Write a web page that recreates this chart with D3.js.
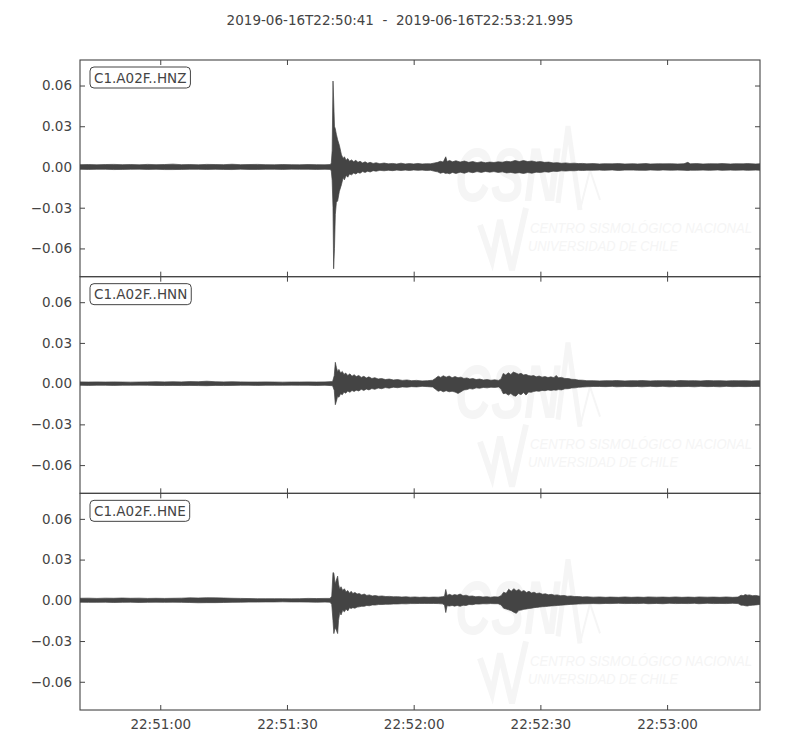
<!DOCTYPE html>
<html><head><meta charset="utf-8">
<script src="https://cdn.jsdelivr.net/npm/d3@7"></script>
<style>body{margin:0;background:#fff}svg{display:block}</style>
</head><body>
<svg id="chart" width="800" height="750"></svg>
<script>
// ---- data (amplitudes; t = seconds after start) ----
const titleText = "2019-06-16T22:50:41  -  2019-06-16T22:53:21.995";
const channels = ["C1.A02F..HNZ", "C1.A02F..HNN", "C1.A02F..HNE"];
const yTicks = [-0.06, -0.03, 0, 0.03, 0.06];
const xTickLabels = ["22:51:00", "22:51:30", "22:52:00", "22:52:30", "22:53:00"];
const startTime = "2019-06-16T22:50:41Z";
const durationSec = 160.995;

// [t, max, min] envelope rows
const hnz = [[0,.0017,-.0017],[2,.0018,-.0018],[4,.0016,-.0017],[6,.0018,-.0017],[8,.0019,-.0019],[10,.0017,-.0018],[12,.0018,-.0017],[14,.0016,-.0016],[16,.0019,-.0018],[18,.0017,-.0017],[20,.0018,-.0019],[22,.0021,-.0019],[24,.0017,-.0018],[26,.0018,-.0017],[28,.0016,-.0017],[30,.0019,-.0018],[32,.0018,-.0017],[34,.0017,-.0018],[36,.0020,-.0019],[38,.0017,-.0016],[40,.0018,-.0018],[42,.0019,-.0018],[44,.0017,-.0017],[46,.0016,-.0017],[48,.0018,-.0018],[50,.0017,-.0016],[52,.0016,-.0017],[54,.0018,-.0017],[56,.0017,-.0018],[58,.0016,-.0017],[59.3,.0018,-.0018],
[59.5,.0030,-.0030],[59.7,.0120,-.0100],[59.9,.0633,-.0300],[60.05,.0500,-.0750],[60.25,.0300,-.0600],[60.45,.0280,-.0350],[60.7,.0240,-.0260],[61.0,.0200,-.0250],[61.4,.0160,-.0180],[61.9,.0090,-.0130],[62.3,.0062,-.0078],[62.6,.0075,-.0095],[63.0,.0050,-.0062],[63.4,.0062,-.0075],[63.8,.0042,-.0052],[64.3,.0052,-.0058],[64.8,.0038,-.0044],[65.3,.0050,-.0052],[65.8,.0034,-.0040],[66.3,.0042,-.0046],[66.9,.0030,-.0034],[67.5,.0038,-.0040],[68.1,.0028,-.0031],[68.7,.0034,-.0037],[69.4,.0026,-.0027],[70.1,.0031,-.0031],[71,.0024,-.0025],[72,.0029,-.0028],[73,.0023,-.0024],[74,.0026,-.0027],[75,.0022,-.0023],[76,.0028,-.0026],[77,.0022,-.0023],[78,.0025,-.0026],[79,.0022,-.0022],[80,.0026,-.0025],[81,.0022,-.0023],[82,.0024,-.0026],[83,.0023,-.0024],[84,.0030,-.0032],[84.7,.0034,-.0036],[85.3,.0042,-.0046],[86,.0036,-.0040],[86.6,.0075,-.0048],[86.9,.0040,-.0045],[87.5,.0048,-.0050],[88.2,.0038,-.0040],[89,.0046,-.0048],[90,.0036,-.0038],[91,.0044,-.0046],[92,.0034,-.0036],[93,.0040,-.0042],[94,.0032,-.0034],[95,.0038,-.0040],[96,.0031,-.0033],[97,.0036,-.0038],[98,.0033,-.0034],[99,.0038,-.0040],[100,.0035,-.0036],[101,.0042,-.0044],[102,.0038,-.0040],[103,.0048,-.0046],[104,.0040,-.0042],[105,.0047,-.0048],[106,.0040,-.0041],[107,.0044,-.0046],[108,.0037,-.0038],[109,.0040,-.0041],[110,.0034,-.0035],[111,.0036,-.0038],[112,.0030,-.0031],[113,.0032,-.0033],[114,.0027,-.0028],[115,.0030,-.0030],[116,.0026,-.0027],[117,.0028,-.0028],[118,.0025,-.0025],[119,.0026,-.0026],[120,.0023,-.0024],
[121.5,.0025,-.0024],[123,.0022,-.0023],[124,.0024,-.0025],[126,.0023,-.0022],[127.5,.0025,-.0026],[129,.0022,-.0023],[131,.0024,-.0023],[132,.0022,-.0024],[134,.0025,-.0025],[135,.0022,-.0022],[137,.0024,-.0025],[138,.0023,-.0022],[140,.0024,-.0024],[141.5,.0022,-.0023],[143,.0024,-.0024],[143.9,.0034,-.0026],[144.5,.0023,-.0024],[146,.0025,-.0024],[147.5,.0022,-.0023],[149,.0024,-.0025],[151,.0023,-.0022],[152,.0025,-.0025],[154,.0022,-.0023],[155,.0024,-.0024],[157,.0023,-.0023],[158,.0025,-.0025],[160,.0022,-.0023],[161,.0024,-.0024]];

const hnn = [[0,.0013,-.0012],[2,.0012,-.0013],[4,.0013,-.0012],[6,.0012,-.0012],[8,.0013,-.0013],[10,.0012,-.0012],[12,.0011,-.0012],[14,.0012,-.0011],[16,.0013,-.0012],[18,.0014,-.0013],[20,.0013,-.0014],[22,.0014,-.0013],[24,.0013,-.0014],[26,.0015,-.0013],[28,.0014,-.0014],[30,.0018,-.0015],[32,.0014,-.0013],[34,.0013,-.0014],[36,.0014,-.0013],[38,.0013,-.0012],[40,.0012,-.0012],[42,.0012,-.0013],[44,.0013,-.0012],[46,.0012,-.0012],[48,.0011,-.0012],[50,.0012,-.0011],[52,.0012,-.0012],[54,.0013,-.0012],[56,.0012,-.0013],[58,.0013,-.0012],[59.8,.0015,-.0015],
[60.2,.0060,-.0050],[60.45,.0157,-.0155],[60.7,.0120,-.0130],[61.0,.0088,-.0092],[61.3,.0105,-.0100],[61.7,.0078,-.0074],[62.1,.0090,-.0082],[62.5,.0068,-.0062],[62.9,.0078,-.0070],[63.4,.0060,-.0055],[63.9,.0072,-.0064],[64.4,.0054,-.0050],[64.9,.0066,-.0058],[65.4,.0052,-.0048],[66,.0060,-.0054],[66.6,.0046,-.0042],[67.2,.0054,-.0050],[67.8,.0042,-.0040],[68.4,.0050,-.0046],[69.1,.0038,-.0036],[69.8,.0044,-.0042],[70.6,.0034,-.0032],[71.4,.0038,-.0037],[72.3,.0030,-.0029],[73.2,.0034,-.0033],[74.2,.0027,-.0026],[75.2,.0030,-.0030],[76.3,.0024,-.0024],[77.4,.0027,-.0026],[78.5,.0022,-.0022],[79.7,.0024,-.0024],[81,.0020,-.0020],[82.3,.0022,-.0022],[83.5,.0025,-.0025],[84.2,.0040,-.0042],[84.8,.0055,-.0056],[85.4,.0046,-.0050],[86,.0058,-.0060],[86.7,.0048,-.0052],[87.4,.0056,-.0060],[88.1,.0044,-.0056],[88.8,.0052,-.0062],[89.5,.0044,-.0072],[90.2,.0048,-.0060],[90.9,.0038,-.0046],[91.6,.0042,-.0044],[92.3,.0034,-.0036],[93,.0038,-.0040],[93.8,.0030,-.0031],[94.6,.0034,-.0034],[95.5,.0027,-.0028],[96.4,.0030,-.0031],[97.3,.0025,-.0026],[98.2,.0028,-.0028],[99.1,.0024,-.0024],[99.7,.0035,-.0040],[100.2,.0075,-.0074],[100.8,.0064,-.0070],[101.4,.0080,-.0084],[102,.0068,-.0072],[102.6,.0085,-.0088],[103.2,.0078,-.0092],[103.8,.0070,-.0072],[104.4,.0076,-.0082],[105,.0064,-.0066],[105.6,.0068,-.0084],[106.2,.0060,-.0062],[106.8,.0056,-.0064],[107.4,.0060,-.0058],[108,.0050,-.0054],[108.7,.0056,-.0056],[109.4,.0048,-.0050],[110.1,.0052,-.0052],[110.8,.0045,-.0046],[111.5,.0050,-.0050],[112.2,.0044,-.0046],[112.7,.0060,-.0048],[113.3,.0044,-.0044],[114,.0046,-.0046],[114.8,.0038,-.0038],[115.6,.0038,-.0037],[116.4,.0032,-.0032],[117.2,.0031,-.0031],[118,.0026,-.0027],[119,.0025,-.0025],[120,.0022,-.0023],
[121.5,.0022,-.0021],[123,.0020,-.0021],[124.5,.0022,-.0022],[126,.0021,-.0020],[127,.0023,-.0023],[129,.0020,-.0021],[130.5,.0022,-.0022],[132,.0021,-.0021],[133,.0023,-.0023],[135,.0020,-.0020],[136.5,.0022,-.0022],[138,.0021,-.0020],[139.5,.0022,-.0023],[141,.0020,-.0021],[142,.0023,-.0022],[144,.0021,-.0021],[145.5,.0022,-.0023],[147,.0020,-.0020],[148.5,.0023,-.0022],[150,.0021,-.0021],[151.5,.0022,-.0023],[153,.0020,-.0020],[154.5,.0022,-.0022],[156,.0021,-.0021],[157.5,.0022,-.0022],[159,.0020,-.0021],[160.5,.0022,-.0021],[161,.0021,-.0021]];

const hne = [[0,.0015,-.0014],[2,.0016,-.0015],[4,.0014,-.0015],[6,.0016,-.0014],[8,.0015,-.0016],[10,.0017,-.0015],[12,.0015,-.0014],[14,.0016,-.0016],[16,.0014,-.0015],[18,.0015,-.0014],[20,.0014,-.0015],[22,.0015,-.0014],[24,.0016,-.0015],[26,.0018,-.0016],[28,.0017,-.0018],[30,.0019,-.0017],[32,.0018,-.0017],[34,.0017,-.0016],[36,.0015,-.0015],[38,.0014,-.0014],[40,.0013,-.0013],[42,.0012,-.0013],[44,.0012,-.0012],[46,.0012,-.0012],[48,.0012,-.0011],[50,.0011,-.0012],[52,.0012,-.0012],[54,.0014,-.0013],[56,.0013,-.0014],[58,.0014,-.0013],[59.2,.0014,-.0014],
[59.6,.0030,-.0030],[59.9,.0205,-.0150],[60.1,.0200,-.0245],[60.4,.0120,-.0200],[60.7,.0150,-.0220],[61.0,.0178,-.0245],[61.2,.0120,-.0150],[61.5,.0082,-.0088],[61.8,.0100,-.0108],[62.2,.0072,-.0074],[62.6,.0085,-.0085],[63,.0062,-.0064],[63.4,.0072,-.0078],[63.8,.0052,-.0055],[64.2,.0066,-.0060],[64.6,.0050,-.0054],[65.1,.0058,-.0058],[65.6,.0046,-.0050],[66.1,.0050,-.0048],[66.7,.0040,-.0044],[67.3,.0046,-.0044],[67.9,.0036,-.0038],[68.5,.0040,-.0040],[69.2,.0032,-.0034],[69.9,.0035,-.0035],[70.7,.0030,-.0031],[71.5,.0032,-.0031],[72.4,.0028,-.0029],[73.3,.0029,-.0029],[74.2,.0026,-.0027],[75.2,.0027,-.0027],[76.2,.0024,-.0025],[77.2,.0026,-.0026],[78.2,.0023,-.0024],[79.3,.0025,-.0024],[80.4,.0022,-.0023],[81.5,.0024,-.0023],[82.6,.0022,-.0023],[83.7,.0024,-.0023],[84.8,.0023,-.0024],[85.8,.0027,-.0026],[86.3,.0030,-.0034],[86.6,.0080,-.0090],[86.9,.0036,-.0040],[87.5,.0044,-.0042],[88.1,.0036,-.0038],[88.7,.0042,-.0043],[89.3,.0038,-.0038],[90,.0046,-.0044],[90.7,.0034,-.0036],[91.4,.0038,-.0038],[92.1,.0030,-.0031],[92.9,.0032,-.0032],[93.7,.0026,-.0027],[94.5,.0029,-.0028],[95.4,.0024,-.0025],[96.3,.0027,-.0026],[97.2,.0023,-.0024],[98.1,.0026,-.0025],[99,.0024,-.0025],[99.7,.0034,-.0034],[100.3,.0060,-.0058],[100.9,.0052,-.0064],[101.5,.0082,-.0070],[102.1,.0066,-.0076],[102.7,.0086,-.0088],[103.3,.0070,-.0096],[103.9,.0080,-.0074],[104.5,.0064,-.0072],[105.1,.0072,-.0066],[105.7,.0058,-.0064],[106.3,.0066,-.0060],[106.9,.0054,-.0058],[107.5,.0060,-.0054],[108.1,.0050,-.0052],[108.8,.0054,-.0050],[109.5,.0045,-.0047],[110.2,.0048,-.0046],[110.9,.0041,-.0043],[111.6,.0044,-.0041],[112.3,.0038,-.0040],[113,.0040,-.0038],[113.8,.0034,-.0036],[114.6,.0036,-.0034],[115.4,.0030,-.0032],[116.2,.0032,-.0030],[117,.0028,-.0029],[118,.0028,-.0027],[119,.0025,-.0026],[120,.0026,-.0025],
[121.5,.0023,-.0024],[123,.0025,-.0025],[124.5,.0022,-.0023],[125.5,.0024,-.0024],[127.5,.0022,-.0022],[129,.0025,-.0024],[130.5,.0022,-.0023],[132,.0024,-.0024],[133.5,.0022,-.0022],[134.5,.0025,-.0025],[136.5,.0023,-.0023],[138,.0024,-.0025],[139.5,.0022,-.0022],[141,.0025,-.0024],[142.5,.0022,-.0023],[144,.0024,-.0024],[145.5,.0022,-.0022],[146.5,.0025,-.0025],[148.5,.0023,-.0022],[150,.0024,-.0024],[151.5,.0022,-.0023],[153,.0025,-.0024],[154.5,.0022,-.0022],[155.8,.0024,-.0024],[156.5,.0038,-.0036],[157,.0034,-.0036],[157.5,.0042,-.0040],[158,.0038,-.0042],[158.5,.0040,-.0038],[159.2,.0034,-.0036],[160,.0036,-.0034],[161,.0030,-.0030]];

const traces = [hnz, hnn, hne];
const yDomain = [-0.0808, 0.0788];

// ---- drawing ----
const svg = d3.select("#chart");
const FONT = "DejaVu Sans, sans-serif";
const INK = "#444";
const WM = "#f5f5f5";
const left = 80, right = 760, top0 = 60, panelH = 216.67;
const t0 = new Date(startTime);
const t1 = new Date(t0.getTime() + durationSec * 1000);
const x = d3.scaleUtc().domain([t0, t1]).range([left, right]);
const sec = s => new Date(t0.getTime() + s * 1000);
const tickDates = xTickLabels.map(s => new Date("2019-06-16T" + s + "Z"));
const fmt = d3.utcFormat("%H:%M:%S");
const fmtY = d => (d < 0 ? "\u2212" : "") + Math.abs(d).toFixed(2);

svg.append("text").attr("x", 400).attr("y", 25).attr("text-anchor", "middle")
  .attr("font-family", FONT).attr("font-size", 13.5).attr("fill", INK)
  .style("white-space", "pre").text(titleText);

const defs = svg.append("defs");

channels.forEach((name, i) => {
  const pt = top0 + i * panelH, pb = pt + panelH;
  const y = d3.scaleLinear().domain(yDomain).range([pb, pt]);
  const g = svg.append("g");

  defs.append("clipPath").attr("id", "clip" + i).append("rect")
    .attr("x", left).attr("y", pt).attr("width", right - left).attr("height", panelH);

  // watermark
  const wm = g.append("g").attr("fill", WM).attr("stroke", "none");
  wm.append("text").attr("x", 455).attr("y", pt + 141)
    .attr("font-family", "Liberation Sans, sans-serif").attr("font-weight", "bold")
    .attr("font-style", "italic").attr("font-size", 76)
    .attr("textLength", 105).attr("lengthAdjust", "spacingAndGlyphs").text("CSN");
  wm.append("path").attr("fill", "none").attr("stroke", WM).attr("stroke-width", 5)
    .attr("d", `M558,${pt + 143} L568,${pt + 66} L580,${pt + 150}`);
  wm.append("path").attr("fill", "none").attr("stroke", WM).attr("stroke-width", 2)
    .attr("d", `M580,${pt + 150} L590,${pt + 110} L600,${pt + 140}`);
  wm.append("path").attr("fill", "none").attr("stroke", WM).attr("stroke-width", 6)
    .attr("d", `M480,${pt + 165} L492,${pt + 200} L500,${pt + 160} L512,${pt + 210} L526,${pt + 148}`);
  wm.append("text").attr("transform", `translate(530,${pt + 172.5}) scale(1,1.15)`)
    .attr("font-family", "Liberation Sans, sans-serif").attr("font-style", "italic")
    .attr("font-size", 13.5).attr("textLength", 222).attr("lengthAdjust", "spacingAndGlyphs")
    .text("CENTRO SISMOLÓGICO NACIONAL");
  wm.append("text").attr("transform", `translate(528,${pt + 190.5}) scale(1,1.15)`)
    .attr("font-family", "Liberation Sans, sans-serif").attr("font-style", "italic")
    .attr("font-size", 13.5).attr("textLength", 150).attr("lengthAdjust", "spacingAndGlyphs")
    .text("UNIVERSIDAD DE CHILE");

  // trace
  const area = d3.area()
    .x(d => x(sec(d[0]))).y0(d => y(d[2])).y1(d => y(d[1]));
  g.append("path").datum(traces[i]).attr("clip-path", `url(#clip${i})`)
    .attr("d", area).attr("fill", INK).attr("stroke", INK).attr("stroke-width", 0.7)
    .attr("stroke-linejoin", "round");

  // frame
  g.append("rect").attr("x", left).attr("y", pt).attr("width", right - left).attr("height", panelH)
    .attr("fill", "none").attr("stroke", INK).attr("stroke-width", 1.1);

  // ticks (inward, all sides)
  const yl = d3.axisLeft(y).tickValues(yTicks).tickSizeInner(-5).tickSizeOuter(0).tickPadding(8).tickFormat(fmtY);
  const ya = g.append("g").attr("transform", `translate(${left},0)`).call(yl);
  const yr = g.append("g").attr("transform", `translate(${right},0)`)
    .call(d3.axisRight(y).tickValues(yTicks).tickSizeInner(-5).tickSizeOuter(0).tickFormat(""));
  const xt = g.append("g").attr("transform", `translate(0,${pt})`)
    .call(d3.axisTop(x).tickValues(tickDates).tickSizeInner(-5).tickSizeOuter(0).tickFormat(""));
  const xbAxis = d3.axisBottom(x).tickValues(tickDates).tickSizeInner(-5).tickSizeOuter(0).tickPadding(9)
    .tickFormat(i === 2 ? fmt : "");
  const xb = g.append("g").attr("transform", `translate(0,${pb})`).call(xbAxis);
  [ya, yr, xt, xb].forEach(a => {
    a.select(".domain").remove();
    a.selectAll("line").attr("stroke", INK);
    a.selectAll("text").attr("font-family", FONT).attr("font-size", 13.5).attr("fill", INK);
  });

  // label box
  const lab = g.append("g");
  const txt = lab.append("text").attr("x", 94).attr("y", pt + 22.5)
    .attr("font-family", FONT).attr("font-size", 13.5).attr("fill", INK).text(name);
  const bb = txt.node().getBBox();
  lab.insert("rect", "text").attr("x", bb.x - 4).attr("y", pt + 7).attr("width", bb.width + 8)
    .attr("height", 21).attr("rx", 4).attr("fill", "#fff").attr("stroke", INK).attr("stroke-width", 1);
});
</script>
</body></html>
